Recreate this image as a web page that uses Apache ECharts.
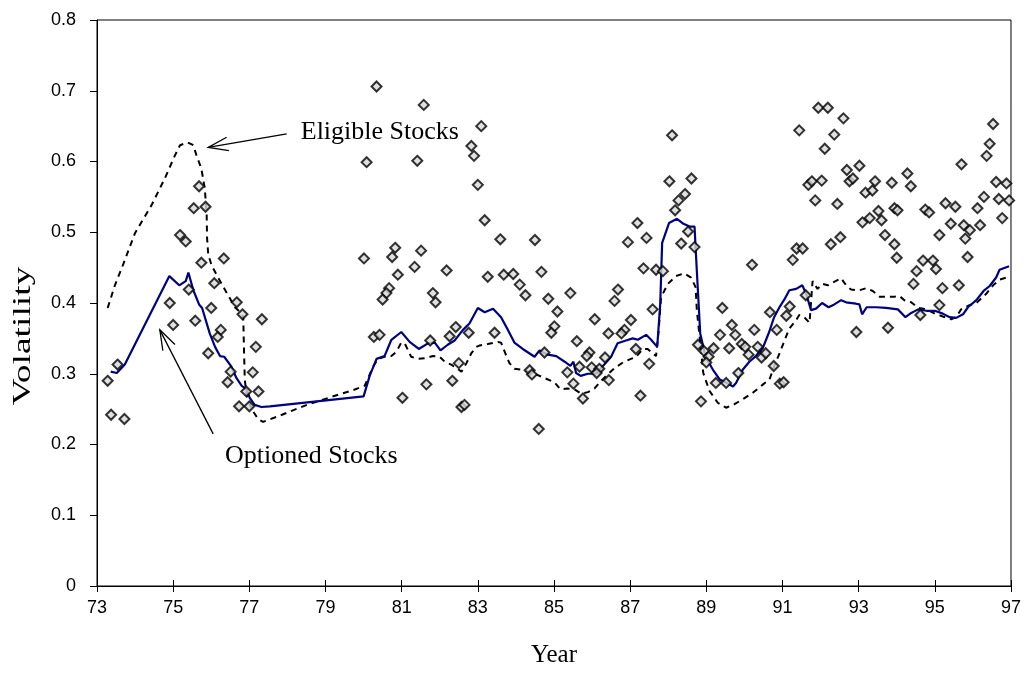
<!DOCTYPE html>
<html>
<head>
<meta charset="utf-8">
<script src="https://cdn.jsdelivr.net/npm/echarts@6/dist/echarts.min.js"></script>
<style>
  html, body { margin: 0; padding: 0; background: #fff; }
  #chart { width: 1024px; height: 673px; }
</style>
</head>
<body>
<div id="chart"></div>
<script>
// Year axis ticks and the volatility tick step
const yearTicks = [73, 75, 77, 79, 81, 83, 85, 87, 89, 91, 93, 95, 97];
const volTicks = [0, 0.1, 0.2, 0.3, 0.4, 0.5, 0.6, 0.7, 0.8];

// Average volatility of optioned stocks: [year, volatility]
const optionedLine = [
  [73.36,0.303],[73.52,0.301],[73.73,0.313],[74.9,0.438],[75.16,0.425],[75.33,0.431],[75.4,0.443],
  [75.53,0.418],[75.68,0.398],[75.76,0.393],[75.96,0.357],[76.1,0.338],[76.23,0.325],[76.34,0.324],
  [76.53,0.310],[76.66,0.294],[76.8,0.283],[76.93,0.278],[77.01,0.266],[77.14,0.256],[77.32,0.253],
  [77.54,0.254],[80.0,0.268],[80.16,0.297],[80.34,0.321],[80.55,0.325],[80.73,0.348],[80.99,0.359],
  [81.21,0.345],[81.45,0.335],[81.69,0.343],[81.87,0.344],[82.02,0.333],[82.21,0.341],[82.39,0.347],
  [82.61,0.362],[82.78,0.371],[83.0,0.393],[83.18,0.387],[83.4,0.392],[83.61,0.380],[83.79,0.362],
  [83.96,0.344],[84.18,0.335],[84.49,0.324],[84.62,0.333],[84.84,0.327],[85.06,0.325],[85.28,0.317],
  [85.43,0.311],[85.51,0.317],[85.58,0.301],[85.7,0.297],[85.89,0.300],[86.1,0.300],[86.32,0.313],
  [86.5,0.324],[86.67,0.343],[86.89,0.347],[87.07,0.350],[87.2,0.348],[87.42,0.355],[87.55,0.348],
  [87.71,0.338],[87.79,0.399],[87.84,0.485],[88.02,0.513],[88.23,0.519],[88.4,0.512],[88.56,0.508],
  [88.69,0.508],[88.75,0.446],[88.84,0.357],[88.98,0.324],[89.17,0.306],[89.35,0.292],[89.54,0.287],
  [89.7,0.282],[89.78,0.287],[89.96,0.306],[90.13,0.317],[90.3,0.325],[90.48,0.336],[90.65,0.359],
  [90.78,0.380],[90.93,0.395],[91.05,0.405],[91.18,0.418],[91.36,0.420],[91.52,0.425],[91.62,0.413],
  [91.75,0.390],[91.88,0.392],[92.04,0.400],[92.21,0.394],[92.36,0.398],[92.54,0.404],[92.67,0.401],
  [92.93,0.399],[93.02,0.398],[93.09,0.384],[93.21,0.394],[93.46,0.394],[93.72,0.393],[94.03,0.391],
  [94.23,0.380],[94.38,0.386],[94.56,0.391],[94.78,0.389],[95.0,0.389],[95.21,0.385],[95.39,0.380],
  [95.56,0.379],[95.74,0.384],[95.87,0.394],[96.09,0.404],[96.28,0.417],[96.44,0.424],[96.61,0.436],
  [96.7,0.447],[96.95,0.452]
];

// Average volatility of eligible stocks: [year, volatility]
const eligibleLine = [
  [73.28,0.393],[73.47,0.425],[73.69,0.455],[74.0,0.499],[74.43,0.538],[74.78,0.576],[75.05,0.609],
  [75.18,0.623],[75.38,0.627],[75.53,0.623],[75.61,0.609],[75.74,0.590],[75.83,0.562],[75.88,0.525],
  [75.89,0.492],[75.92,0.469],[76.01,0.453],[76.18,0.436],[76.4,0.415],[76.62,0.394],[76.8,0.385],
  [76.84,0.380],[76.86,0.334],[76.88,0.292],[76.93,0.269],[77.06,0.250],[77.23,0.236],[77.36,0.232],
  [77.76,0.240],[78.46,0.255],[79.25,0.269],[79.68,0.276],[80.03,0.283],[80.12,0.294],[80.25,0.310],
  [80.38,0.321],[80.55,0.324],[80.73,0.325],[80.86,0.331],[80.99,0.344],[81.08,0.343],[81.25,0.324],
  [81.43,0.321],[81.6,0.322],[81.82,0.325],[82.0,0.324],[82.13,0.317],[82.3,0.313],[82.44,0.308],
  [82.57,0.303],[82.7,0.315],[82.83,0.329],[82.96,0.338],[83.05,0.340],[83.26,0.342],[83.53,0.345],
  [83.61,0.344],[83.72,0.329],[83.83,0.315],[83.96,0.307],[84.23,0.305],[84.49,0.300],[84.75,0.294],
  [85.01,0.288],[85.17,0.278],[85.35,0.279],[85.54,0.278],[85.71,0.272],[85.89,0.274],[86.06,0.279],
  [86.19,0.287],[86.37,0.297],[86.59,0.308],[86.81,0.316],[87.02,0.321],[87.16,0.324],[87.33,0.335],
  [87.46,0.335],[87.68,0.325],[87.75,0.362],[87.81,0.408],[87.99,0.427],[88.2,0.438],[88.42,0.442],
  [88.6,0.436],[88.72,0.422],[88.75,0.390],[88.86,0.334],[88.92,0.301],[89.08,0.276],[89.3,0.259],
  [89.52,0.252],[89.74,0.257],[89.96,0.264],[90.22,0.273],[90.49,0.285],[90.66,0.292],[90.79,0.312],
  [90.93,0.330],[91.06,0.348],[91.18,0.364],[91.36,0.376],[91.44,0.383],[91.57,0.380],[91.71,0.372],
  [91.79,0.431],[91.92,0.420],[92.05,0.427],[92.19,0.425],[92.32,0.429],[92.54,0.435],[92.67,0.425],
  [92.8,0.419],[93.02,0.418],[93.2,0.421],[93.37,0.417],[93.55,0.409],[93.77,0.409],[93.94,0.409],
  [94.07,0.410],[94.2,0.404],[94.38,0.401],[94.56,0.393],[94.78,0.391],[95.0,0.385],[95.21,0.381],
  [95.43,0.377],[95.56,0.380],[95.69,0.391],[95.91,0.397],[96.09,0.400],[96.35,0.413],[96.53,0.425],
  [96.7,0.433],[96.95,0.437]
];

// Individual observations: [year, volatility]
const stockPoints = [
  [73.28,0.290],[73.54,0.313],[73.37,0.242],[73.72,0.236],[74.91,0.400],[75.0,0.369],[75.18,0.496],
  [75.33,0.487],[75.41,0.419],[75.58,0.375],[75.54,0.534],[75.68,0.565],[75.85,0.536],[75.74,0.457],
  [76.0,0.393],[76.08,0.428],[76.33,0.463],[75.92,0.329],[76.25,0.362],[76.17,0.352],[76.51,0.303],
  [76.43,0.288],[76.67,0.401],[76.82,0.384],[77.33,0.377],[77.17,0.338],[77.09,0.302],[77.24,0.275],
  [76.92,0.275],[76.73,0.254],[77.0,0.254],
  [80.34,0.706],[81.58,0.680],[80.08,0.599],[81.41,0.601],[82.83,0.622],[82.9,0.608],[83.0,0.567],
  [80.01,0.463],[80.83,0.478],[80.75,0.465],[81.51,0.474],[80.9,0.440],[81.34,0.451],[82.18,0.446],
  [80.67,0.421],[80.6,0.414],[80.5,0.405],[81.82,0.414],[81.89,0.401],[80.27,0.352],[80.42,0.355],
  [81.75,0.347],[82.42,0.366],[82.26,0.353],[82.76,0.358],[82.5,0.315],[81.65,0.285],[82.33,0.290],
  [81.02,0.266],[82.57,0.253],[82.65,0.256],
  [83.09,0.650],[83.18,0.517],[83.59,0.490],[84.5,0.489],[83.26,0.437],[83.68,0.440],[83.93,0.441],
  [84.67,0.444],[84.1,0.426],[84.25,0.411],[84.85,0.406],[85.43,0.414],[85.09,0.388],[85.01,0.367],
  [84.93,0.358],[86.07,0.377],[83.44,0.358],[85.6,0.346],[84.75,0.330],[85.93,0.330],[85.86,0.325],
  [85.67,0.310],[85.99,0.309],[84.36,0.305],[84.42,0.299],[85.35,0.302],[85.51,0.286],[85.76,0.265],
  [84.6,0.222],
  [88.1,0.637],[88.03,0.572],[88.61,0.576],[88.44,0.554],[88.27,0.545],[88.18,0.531],[87.19,0.513],
  [86.94,0.486],[87.43,0.492],[88.52,0.501],[88.34,0.484],[88.69,0.479],[87.35,0.449],[87.68,0.447],
  [87.86,0.445],[90.2,0.454],[86.68,0.419],[86.59,0.403],[87.59,0.391],[87.02,0.376],[89.42,0.393],
  [90.67,0.387],[86.85,0.362],[86.77,0.357],[86.43,0.357],[89.67,0.369],[90.26,0.362],[90.85,0.362],
  [89.36,0.355],[89.76,0.355],[87.15,0.335],[88.78,0.341],[89.19,0.336],[89.6,0.336],[89.93,0.342],
  [90.02,0.338],[90.35,0.338],[90.11,0.327],[90.45,0.323],[90.56,0.329],[86.34,0.323],[88.94,0.332],
  [89.06,0.324],[89.0,0.316],[86.19,0.307],[86.12,0.301],[86.44,0.291],[87.5,0.314],[90.77,0.311],
  [89.84,0.301],[89.25,0.287],[89.52,0.287],[90.93,0.286],[91.03,0.288],[87.27,0.269],[88.86,0.261],
  [91.94,0.676],[92.19,0.676],[92.6,0.661],[91.44,0.644],[92.36,0.638],[92.11,0.618],[96.53,0.653],
  [96.44,0.625],[96.36,0.608],[92.69,0.588],[93.02,0.594],[94.28,0.583],[95.7,0.596],[91.68,0.567],
  [91.77,0.572],[92.03,0.573],[92.76,0.572],[92.85,0.576],[93.43,0.572],[93.18,0.556],[93.36,0.559],
  [93.87,0.570],[94.37,0.565],[96.61,0.571],[96.88,0.569],[91.86,0.545],[92.44,0.540],[96.68,0.547],
  [96.95,0.545],[93.94,0.534],[94.02,0.531],[93.52,0.530],[95.28,0.541],[95.54,0.536],[96.12,0.534],
  [96.29,0.550],[94.75,0.532],[94.85,0.528],[93.1,0.514],[93.29,0.520],[93.6,0.517],[95.42,0.512],
  [95.76,0.510],[95.92,0.503],[96.19,0.510],[96.77,0.520],[93.69,0.496],[95.12,0.496],[95.8,0.491],
  [92.27,0.483],[92.52,0.493],[93.94,0.483],[91.37,0.477],[91.53,0.477],[94.0,0.464],[95.86,0.465],
  [91.27,0.461],[94.69,0.460],[94.95,0.460],[95.03,0.448],[94.52,0.445],[94.44,0.427],[95.2,0.421],
  [95.63,0.425],[91.61,0.411],[95.12,0.397],[91.19,0.395],[91.1,0.382],[94.62,0.383],[92.94,0.359],
  [93.77,0.365]
];

// Callout labels: text anchor and arrow tail/tip, all in [year, volatility]
const calloutLabels = ['Eligible Stocks', 'Optioned Stocks'];
const calloutText = [[78.35, 0.642], [76.36, 0.183]];
const calloutTail = [[77.98, 0.639], [76.05, 0.215]];
const calloutTip = [[75.92, 0.620], [74.65, 0.362]];
const yAxisTitle = 'Volatility';

const serif = '"Liberation Serif", "Times New Roman", serif';
const sans = '"Liberation Sans", Arial, sans-serif';

const chart = echarts.init(document.getElementById('chart'));

const yearAxisBase = () => ({
  type: 'value', min: yearTicks[0], max: yearTicks[yearTicks.length - 1], interval: 2,
  splitLine: { show: false }
});

chart.setOption({
  animation: false,
  backgroundColor: '#fff',
  grid: { left: 97, right: 12, top: 20, bottom: 81, show: true, borderColor: '#000', borderWidth: 1, backgroundColor: 'transparent' },
  xAxis: [
    Object.assign(yearAxisBase(), {
      name: 'Year', nameLocation: 'middle', nameGap: 57,
      nameTextStyle: { fontFamily: serif, fontSize: 25, color: '#000' },
      axisLine: { onZero: false, lineStyle: { color: '#000', width: 1 } },
      axisTick: { inside: false, length: 6, lineStyle: { color: '#000' } },
      axisLabel: { fontFamily: sans, fontSize: 18, color: '#000', margin: 13 }
    }),
    Object.assign(yearAxisBase(), {
      position: 'bottom',
      axisLine: { show: false },
      axisTick: { inside: true, length: 6, lineStyle: { color: '#000' } },
      axisLabel: { show: false }
    })
  ],
  yAxis: {
    type: 'value', min: volTicks[0], max: volTicks[volTicks.length - 1], interval: 0.1,
    axisLine: { show: true, lineStyle: { color: '#000', width: 1 } },
    axisTick: { show: true, length: 7, lineStyle: { color: '#000' } },
    axisLabel: { fontFamily: sans, fontSize: 18, color: '#000', margin: 21,
      formatter: v => (v === 0 ? '0' : v.toFixed(1)) },
    splitLine: { show: false }
  },
  series: [
    {
      name: 'Eligible Stocks', type: 'line', data: eligibleLine, showSymbol: false, z: 3,
      lineStyle: { color: '#000', width: 2, type: [6, 5] }
    },
    {
      name: 'Optioned Stocks', type: 'line', data: optionedLine, showSymbol: false, z: 4,
      lineStyle: { color: '#000080', width: 2.2 }
    },
    {
      name: 'Stocks', type: 'scatter', data: stockPoints, symbol: 'diamond', symbolSize: 10, z: 5,
      itemStyle: { color: '#d8d8d8', borderColor: '#000', borderWidth: 2 }
    }
  ]
});

// Callout arrows placed through the grid's own coordinate conversion
function arrowElements(tail, tip) {
  const a = chart.convertToPixel({ gridIndex: 0 }, tail);
  const b = chart.convertToPixel({ gridIndex: 0 }, tip);
  const ang = Math.atan2(a[1] - b[1], a[0] - b[0]);
  const len = 21, spread = 0.33;
  const h1 = [b[0] + len * Math.cos(ang + spread), b[1] + len * Math.sin(ang + spread)];
  const h2 = [b[0] + len * Math.cos(ang - spread), b[1] + len * Math.sin(ang - spread)];
  const style = { stroke: '#000', lineWidth: 1.3, fill: null };
  return [
    { type: 'polyline', shape: { points: [a, b] }, style },
    { type: 'polyline', shape: { points: [h1, b, h2] }, style }
  ];
}

const elements = [];
calloutLabels.forEach((label, i) => {
  const p = chart.convertToPixel({ gridIndex: 0 }, calloutText[i]);
  elements.push({
    type: 'text', x: p[0], y: p[1],
    style: { text: label, fontFamily: serif, fontSize: 26, fill: '#000', verticalAlign: 'middle' }
  });
  elements.push(...arrowElements(calloutTail[i], calloutTip[i]));
});

// Vertical axis title, set a little low and drawn tall like the printed figure
elements.push({
  type: 'text', x: 23, y: 336, rotation: Math.PI / 2, scaleX: 1.5,
  style: { text: yAxisTitle, fontFamily: serif, fontSize: 25, fill: '#000', align: 'center', verticalAlign: 'middle' }
});
chart.setOption({ graphic: elements });
</script>
</body>
</html>
